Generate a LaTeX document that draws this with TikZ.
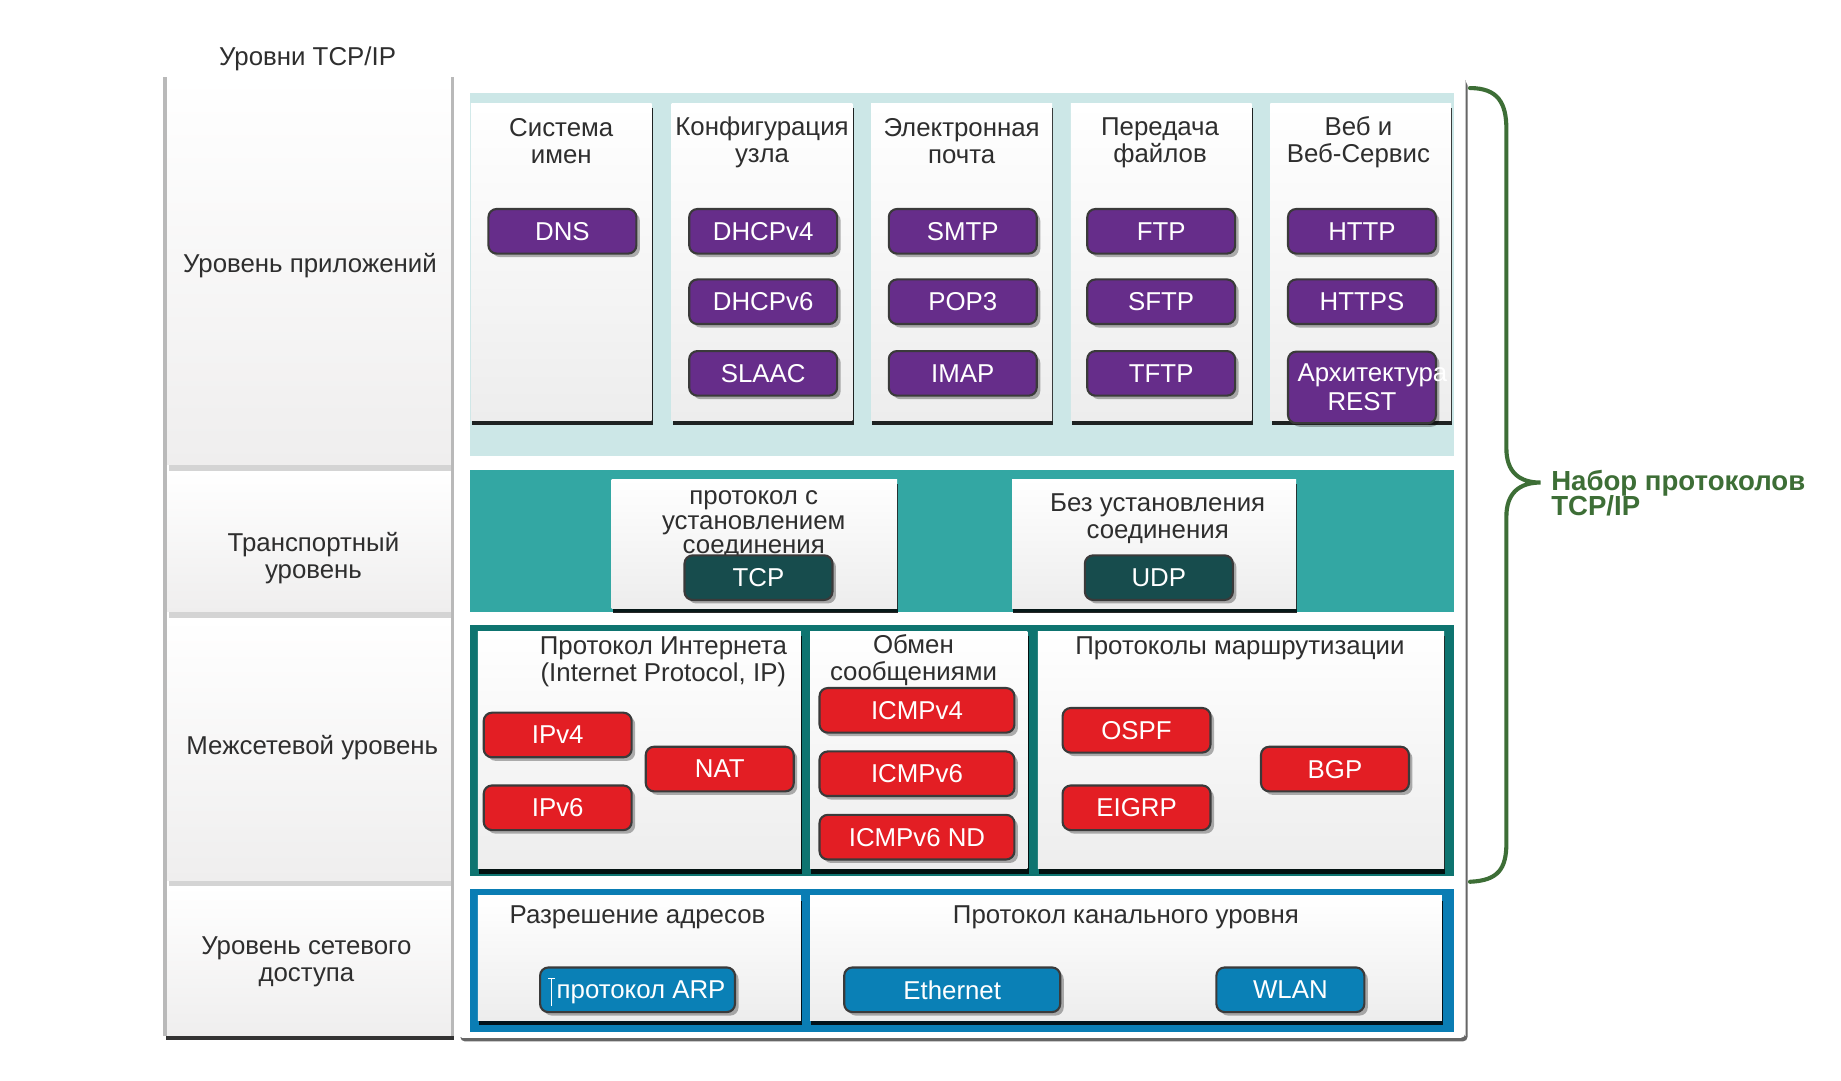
\documentclass[tikz,border=0pt]{standalone}
\usepackage{fontspec}
\setmainfont{Liberation Sans}
\usetikzlibrary{shadows}
\definecolor{txt}{HTML}{2E2E2E}
\definecolor{purplebtn}{HTML}{662D8A}
\definecolor{redbtn}{HTML}{E31E24}
\definecolor{bluebtn}{HTML}{0A80B6}
\definecolor{tealbtn}{HTML}{174C4D}
\definecolor{tealband}{HTML}{33A7A3}
\definecolor{itframe}{HTML}{0E7470}
\definecolor{lightcyan}{HTML}{CCE7E7}
\definecolor{netband}{HTML}{0A7DB4}
\definecolor{btnborder}{HTML}{3A3A3A}
\definecolor{bracegreen}{HTML}{3D6E36}
\definecolor{leftgray}{HTML}{EFEEEE}
\definecolor{sepgray}{HTML}{D4D4D4}
\definecolor{cardbottom}{HTML}{EDEDED}
\begin{document}
\begin{tikzpicture}[x=1pt,y=-1pt,
  lbl/.style={font=\fontsize{22}{23}\selectfont, text=txt, align=center, inner sep=0pt},
  card/.style={top color=white, bottom color=cardbottom,
    drop shadow={shadow xshift=1pt, shadow yshift=-4pt, fill=black, opacity=.85}},
  btn/.style={rounded corners=7pt, draw=btnborder, line width=1.8pt,
    minimum height=38pt, minimum width=126pt, text=white, inner sep=0pt,
    font=\fontsize{22}{23}\selectfont, align=center, text depth=0pt,
    drop shadow={shadow xshift=3pt, shadow yshift=-3pt, fill=black, opacity=.3}},
  pbtn/.style={btn, fill=purplebtn},
  rbtn/.style={btn, fill=redbtn},
  bbtn/.style={btn, fill=bluebtn},
  tbtn/.style={btn, fill=tealbtn},
]
\useasboundingbox (0,0) rectangle (1568,920);
\fill[white] (0,0) rectangle (1568,920);

% ---------- left column ----------
\path[fill=white, drop shadow={shadow xshift=1pt, shadow yshift=-4pt, fill=black, opacity=.8}] (140,66) rectangle (386,882);
\foreach \a/\b in {66/396, 401/521, 526/750, 755/882} {
  \shade[top color=white, bottom color=leftgray] (140,\a) rectangle (386,\b);
}
\foreach \a in {396, 521, 750} {
  \fill[sepgray] (144,\a) rectangle (384,{\a+5});
}
\fill[gray!55] (139,66) rectangle (142,882);
\fill[gray!55] (384,66) rectangle (387,882);

\node[lbl] (title) at (262,50) {Уровни TCP/IP};
\node[lbl] (lapp) at (264,226) {Уровень приложений};
\node[lbl] (ltr) at (267,475) {Транспортный\\уровень};
\node[lbl] (lnet) at (266,637) {Межсетевой уровень};
\node[lbl] (lacc) at (261,819.5) {Уровень сетевого\\доступа};

% ---------- main frame ----------
\path[fill=white, rounded corners=4pt, drop shadow={shadow xshift=2pt, shadow yshift=-3pt, fill=black, opacity=.6}] (390,66) rectangle (1248,884);
\draw[gray!45, line width=1.2pt] (1248,68) -- (1248,882);

% ---------- application layer ----------
\fill[lightcyan] (400,79) rectangle (1238,388);
\foreach \x in {401,572,742,912,1082} {
  \path[card] (\x,88) rectangle ({\x+154},358);
}
\node[lbl] (h1) at (478,120) {Система\\имен};
\node[lbl] (h2) at (649,121) {Конфигурация\\узла};
\node[lbl] (h3) at (819,120) {Электронная\\почта};
\node[lbl] (h4) at (988,122) {Передача\\файлов};
\node[lbl] (h5) at (1157,121) {Веб и\\Веб-Сервис};

\node[pbtn] (dns) at (479,197) {DNS};
\node[pbtn] (dhcp4) at (650,197) {DHCPv4};
\node[pbtn] (dhcp6) at (650,257) {DHCPv6};
\node[pbtn] (slaac) at (650,318) {SLAAC};
\node[pbtn] (smtp) at (820,197) {SMTP};
\node[pbtn] (pop3) at (820,257) {POP3};
\node[pbtn] (imap) at (820,318) {IMAP};
\node[pbtn] (ftp) at (989,197) {FTP};
\node[pbtn] (sftp) at (989,257) {SFTP};
\node[pbtn] (tftp) at (989,318) {TFTP};
\node[pbtn] (http) at (1160,197) {HTTP};
\node[pbtn] (https) at (1160,257) {HTTPS};
\node[pbtn, minimum height=61pt] (rest) at (1160,330) {};
\node[lbl, text=white, anchor=west] (resta) at (1105,320) {Архитектура};
\node[lbl, text=white] (restb) at (1160,342) {REST};

% ---------- transport layer ----------
\fill[tealband] (400,400) rectangle (1238,521);
\path[card] (521,408) rectangle (764,518);
\path[card] (862,408) rectangle (1104,518);
\node[lbl, font=\fontsize{22}{21}\selectfont] (tcph) at (642,447) {протокол с\\установлением\\соединения};
\node[lbl] (udph) at (986,441.5) {Без установления\\соединения};
\node[tbtn] (tcp) at (646,492) {TCP};
\node[tbtn] (udp) at (987,492) {UDP};

% ---------- internet layer ----------
\fill[itframe] (400,532) rectangle (1238,746);
\path[card] (407,538) rectangle (682,740);
\path[card] (690,538) rectangle (875,740);
\path[card] (884,538) rectangle (1230,740);
\node[lbl] (iph) at (565,564) {Протокол Интернета\\(Internet Protocol, IP)};
\node[lbl] (icmph) at (778,562) {Обмен\\сообщениями};
\node[lbl] (routh) at (1056,552) {Протоколы маршрутизации};
\node[rbtn] (ipv4) at (475,626) {IPv4};
\node[rbtn] (ipv6) at (475,688) {IPv6};
\node[rbtn] (nat) at (613,655) {NAT};
\node[rbtn, minimum width=166pt] (icmp4) at (781,605) {ICMPv4};
\node[rbtn, minimum width=166pt] (icmp6) at (781,659) {ICMPv6};
\node[rbtn, minimum width=166pt] (icmpnd) at (781,713) {ICMPv6 ND};
\node[rbtn] (ospf) at (968,622) {OSPF};
\node[rbtn] (eigrp) at (968,688) {EIGRP};
\node[rbtn] (bgp) at (1137,655) {BGP};

% ---------- network access layer ----------
\fill[netband] (400,757) rectangle (1238,879);
\path[card] (407,763) rectangle (682,869);
\path[card] (690,763) rectangle (1228,869);
\node[lbl] (arph) at (543,781) {Разрешение адресов};
\node[lbl] (linkh) at (959,781) {Протокол канального уровня};
\node[bbtn, minimum width=166pt] (arp) at (543,843) {\hspace*{6pt}протокол ARP};
\draw[white, line width=1pt] (470,833) -- (470,857);
\draw[white, line width=0.8pt] (467,833) -- (473,833);
\node[bbtn, minimum width=184pt] (eth) at (811,843) {Ethernet};
\node[bbtn] (wlan) at (1099,843) {WLAN};

% ---------- brace ----------
\draw[bracegreen, line width=3.5pt, line cap=round]
  (1252,75) .. controls (1276,75) and (1283,88) .. (1283,110)
  -- (1283,382) .. controls (1283,402) and (1294,411) .. (1312,411)
  .. controls (1294,411) and (1283,420) .. (1283,440)
  -- (1283,718) .. controls (1283,740) and (1276,750) .. (1252,751);
\node[font=\bfseries\fontsize{23.5}{22}\selectfont, text=bracegreen, align=left, anchor=west, inner sep=0pt] (suite) at (1321,420) {Набор протоколов\\TCP/IP};
\end{tikzpicture}
\end{document}
